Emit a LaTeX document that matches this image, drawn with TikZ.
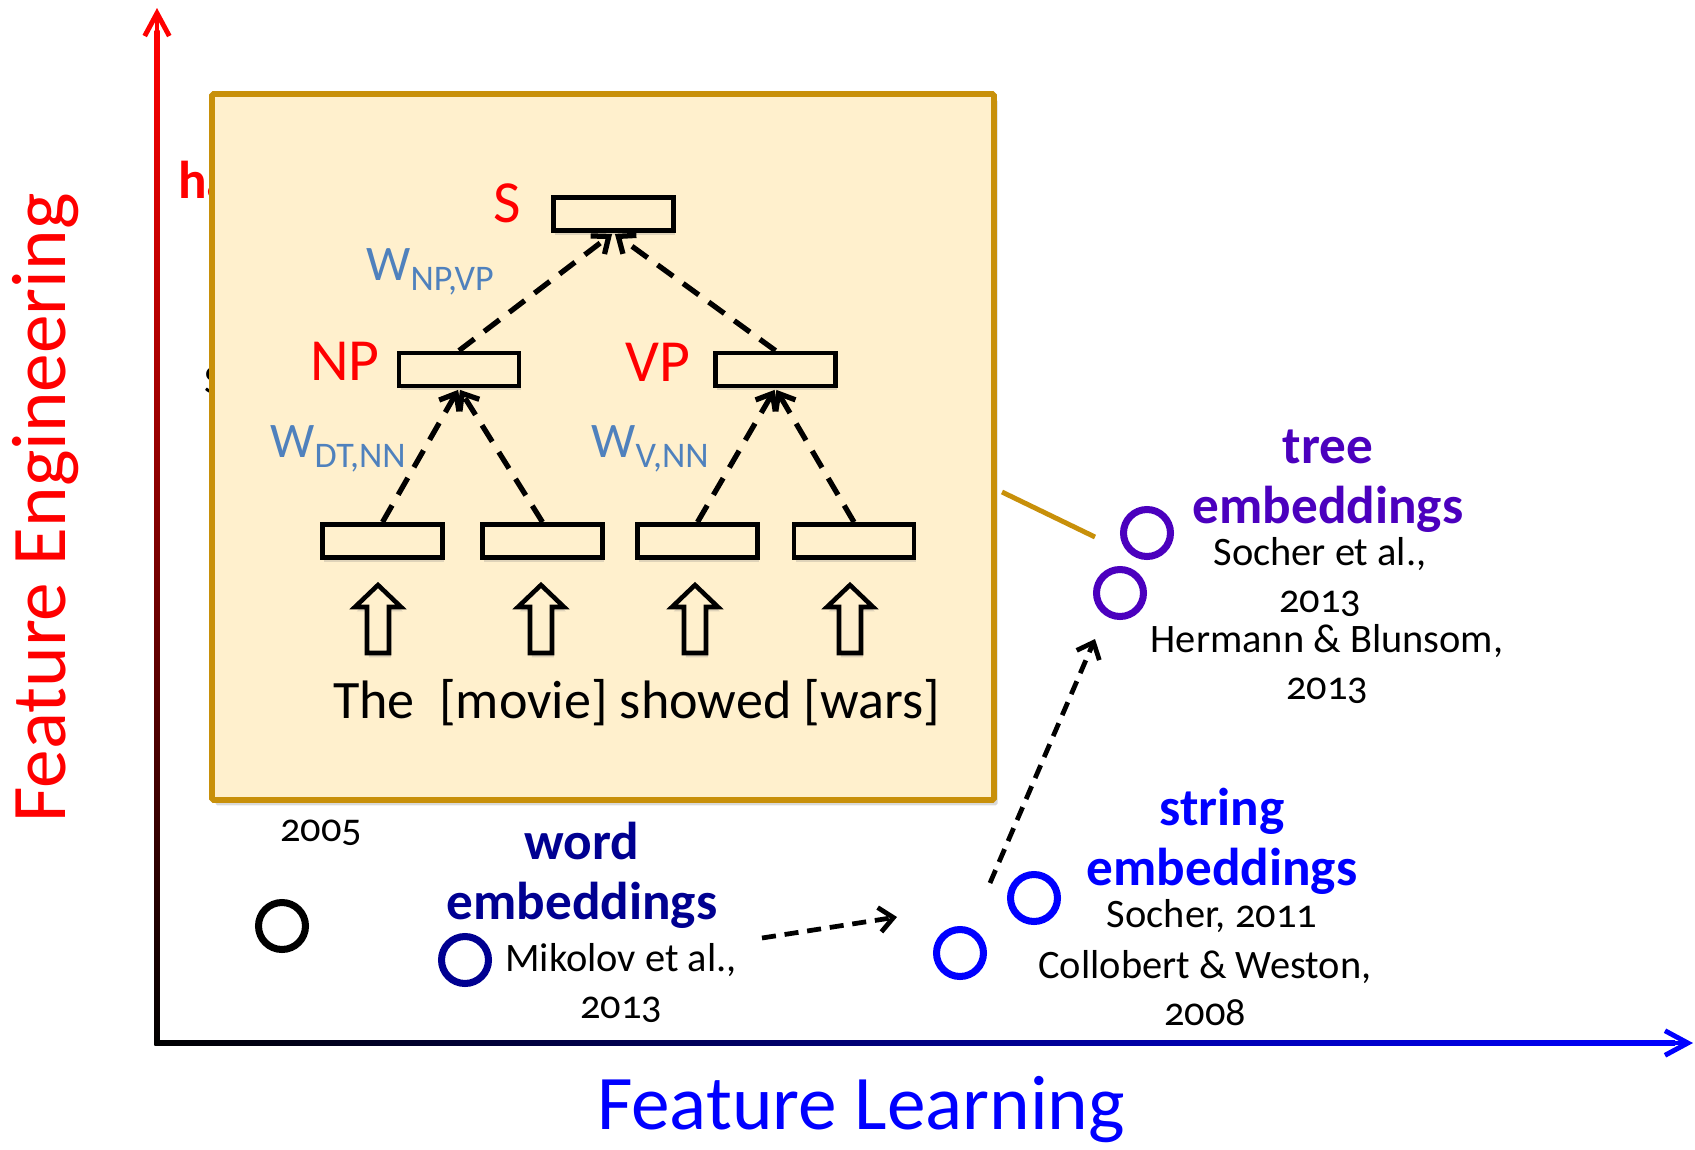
\documentclass[tikz,border=0pt]{standalone}
\usepackage{fontspec}
\setmainfont{Carlito}[Numbers=OldStyle]
\usetikzlibrary{arrows.meta,shadows}

\definecolor{boxfill}{HTML}{FFF0CD}
\definecolor{boxedge}{HTML}{C8900A}
\definecolor{wblue}{HTML}{4F81BD}
\definecolor{wordblue}{HTML}{000091}
\definecolor{treepurple}{HTML}{4B00BE}
\definecolor{strblue}{HTML}{0000FF}

\newcommand{\fpx}[2]{\fontsize{#1}{#2}\selectfont}
\newcommand{\twolines}[2]{\begin{tabular}[t]{@{}c@{}}#1\\#2\end{tabular}}
\newcommand{\wsub}[1]{W\raisebox{-6.2pt}{\fpx{20.5}{24}#1}}

\begin{document}
\begin{tikzpicture}[x=0.02cm, y=-0.02cm,
  vecbox/.style={draw, line width=2.7pt, fill=boxfill, minimum width=2.4cm, minimum height=0.66cm, inner sep=0pt,
    drop shadow={opacity=0.25, shadow xshift=1pt, shadow yshift=-2.5pt}},
  blockarrow/.style={draw, fill=boxfill, line width=2.6pt, line join=miter,
    drop shadow={opacity=0.25, shadow xshift=1pt, shadow yshift=-2.5pt}},
  callbox/.style={draw=boxedge, fill=boxfill, line width=3.3pt, rounded corners=1pt,
    drop shadow={opacity=0.3, shadow xshift=2pt, shadow yshift=-3pt}},
  treeedge/.style={line width=3pt, dash pattern=on 11pt off 7pt, shorten >=1pt, -{Straight Barb[length=8pt,width=13pt]}},
  progarrow/.style={line width=2.7pt, dash pattern=on 8pt off 5pt, -{Straight Barb[length=8pt,width=14pt]}},
  axisarrow/.style={line width=2.8pt, -{Straight Barb[length=13pt,width=14pt]}},
  dot/.style={circle, line width=4pt, minimum size=0.94cm, inner sep=0pt},
  catlab/.style={font=\bfseries\fpx{30.3}{34.6}, inner sep=0pt},
  reflab/.style={font=\fpx{23}{27.2}, inner sep=0pt},
  redlab/.style={red, font=\fpx{34}{40}, inner sep=0pt},
  wlab/.style={wblue, font=\fpx{28.3}{33}, inner sep=0pt},
  axislab/.style={font=\fpx{44}{50}, inner sep=0pt}]

 \useasboundingbox (0,0) rectangle (1695,1150);

 %axes
 \coordinate (O) at (157,1043);
 \coordinate (ytip) at (157,8);
 \coordinate (xtip) at (1693,1043);
 \shade[top color=red, middle color=red!85!black, bottom color=black] (154.5,1045.5) rectangle (159.5,30);
 \shade[left color=black, right color=blue] (154.5,1045.5) rectangle (1675,1040.5);
 \draw[axisarrow, red] (157,32) -- (ytip);
 \draw[axisarrow, blue] (1670,1043) -- (xtip);

 \node[axislab, red, rotate=90, anchor=base] (feng) at (65,508) {Feature Engineering};
 \node[axislab, strblue, anchor=base] (flearn) at (861,1129) {Feature Learning};

 %texts behind the zoom box
 \node[catlab, red, anchor=base west] (hidden1) at (178,198) {ha};
 \node[reflab, anchor=base west] (hidden2) at (204,393) {S};

 %zoom box
 \draw[callbox] (212,94) rectangle (994,800);

 %tree
 \node[vecbox] (s) at (613.5,214) {};
 \node[vecbox] (np) at (459,369.5) {};
 \node[vecbox] (vp) at (775.5,369.5) {};
 \foreach \name/\x in {l1/382.5,l2/542.5,l3/697.5,l4/854}{
   \node[vecbox] (\name) at (\x,541) {};
 }
 \foreach \from/\to in {np/s,vp/s,l1/np,l2/np,l3/vp,l4/vp}{
   \draw[treeedge] (\from.north) -- (\to.south);
 }

 \node[redlab, anchor=base] (slab) at (507,222) {S};
 \node[redlab, anchor=base] (nplab) at (345,380) {NP};
 \node[redlab, anchor=base] (vplab) at (658,381) {VP};

 \node[wlab, anchor=base west] (wnpvp) at (366,280) {\wsub{NP,VP}};
 \node[wlab, anchor=base west] (wdtnn) at (270,457) {\wsub{DT,NN}};
 \node[wlab, anchor=base west] (wvnn) at (591,457) {\wsub{V,NN}};

 %word arrows
 \foreach \x in {378,541,695,850}{
   \draw[blockarrow] (\x-11,653) -- (\x+11,653) -- (\x+11,607) -- (\x+23,607) -- (\x,585) -- (\x-23,607) -- (\x-11,607) -- cycle;
 }
 \node[anchor=base, inner sep=0pt, font=\fpx{30.8}{36}] (words) at (636.5,718) {The\ \ [movie] showed [wars]};

 %callout
 \coordinate (calloutA) at (1002,492);
 \coordinate (calloutB) at (1095,537);
 \draw[boxedge, line width=2.8pt] (calloutA) -- (calloutB);

 %points
 \node[dot, draw=black] (c0) at (282,926) {};
 \node[dot, draw=wordblue] (cw) at (465,960) {};
 \node[dot, draw=strblue] (cs1) at (960,953) {};
 \node[dot, draw=strblue] (cs2) at (1034,898) {};
 \node[dot, draw=treepurple] (ct1) at (1120,593) {};
 \node[dot, draw=treepurple] (ct2) at (1147,533) {};

 %labels
 \node[reflab, anchor=base] (y2005) at (321,841) {2005};
 \node[catlab, wordblue, anchor=base] (wordlab) at (582,859) {\twolines{word}{embeddings}};
 \node[reflab, anchor=base] (mikolov) at (621,971) {\twolines{Mikolov et al.,}{2013}};
 \node[catlab, strblue, anchor=base] (strlab) at (1222,825) {\twolines{string}{embeddings}};
 \node[reflab, anchor=base] (socher11) at (1212,927) {Socher, 2011};
 \node[reflab, anchor=base] (collobert) at (1205,978) {\twolines{Collobert \& Weston,}{2008}};
 \node[catlab, treepurple, anchor=base] (treelab) at (1328,463) {\twolines{tree}{embeddings}};
 \node[reflab, anchor=base] (socher13) at (1320,565) {\twolines{Socher et al.,}{2013}};
 \node[reflab, anchor=base] (hermann) at (1327,652) {\twolines{Hermann \& Blunsom,}{2013}};

 %progress
 \coordinate (wsA) at (762,938);
 \coordinate (wsB) at (897,917);
 \draw[progarrow] (wsA) -- (wsB);
 \coordinate (stA) at (990,883);
 \coordinate (stB) at (1095,639);
 \draw[progarrow] (stA) -- (stB);

\end{tikzpicture}
\end{document}
